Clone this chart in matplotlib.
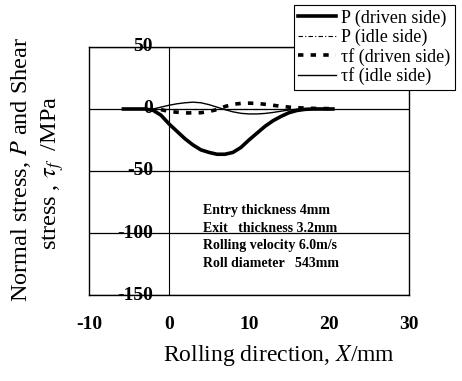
import matplotlib
matplotlib.use('Agg')
import matplotlib.pyplot as plt

plt.rcParams['font.family'] = ['Liberation Serif', 'DejaVu Serif']
plt.rcParams['mathtext.fontset'] = 'stix'

# rolling direction X (mm) and stresses (MPa)
x_p_drv = [-5.7, -3, -2, -1, 0, 1, 2, 3, 4, 5, 6, 7, 8, 9, 10, 11, 12, 13, 14, 15, 16, 17, 18, 20.5]
p_drv = [0, 0, -1, -5, -12, -18, -24, -29, -33, -35, -36.5, -36.5, -35, -31, -25, -19.5, -14, -9.5, -6, -3, -1.2, -0.3, 0, 0]

x_p_idl = [-2, 0, 5, 10, 15, 20.5]
p_idl = [0, 0, 0, 0, 0, 0]

x_tf_drv = [-1, 0, 2, 4, 5, 6, 7, 8, 9, 10, 11, 12, 13, 14, 15, 16, 17, 18, 20]
tf_drv = [-0.5, -2, -3.2, -3, -2, -0.5, 2, 3.8, 4.5, 4.7, 4.5, 3.8, 3, 2.2, 1.5, 1.0, 0.8, 0.5, 0.3]

x_tf_idl = [-2, -1, 0, 1, 2, 3, 4, 5, 6, 7, 8, 9, 10, 11, 12, 13, 14, 15, 16, 17, 20.5]
tf_idl = [0, 1.5, 3, 4.2, 5, 5.5, 5, 3.5, 1.5, -0.5, -2.3, -3.5, -4, -4, -3.6, -2.8, -1.8, -0.8, -0.2, 0, 0]

yticks = [50, 0, -50, -100, -150]
xticks = [-10, 0, 10, 20, 30]
notes = ['Entry thickness 4mm', 'Exit   thickness 3.2mm',
         'Rolling velocity 6.0m/s', 'Roll diameter   543mm']

fig = plt.figure(figsize=(4.62, 3.81), dpi=100)
ax = fig.add_axes([0.1926, 0.2257, 0.6926, 0.651])

for y in yticks:
    ax.axhline(y, color='k', lw=0.9, zorder=1)
ax.axvline(0, color='k', lw=0.8, zorder=1)

ax.plot(x_p_drv, p_drv, 'k-', lw=2.6, label='P (driven side)', zorder=3)
ax.plot(x_p_idl, p_idl, 'k', ls=(0, (4, 2, 1, 2)), lw=0.8, label='P (idle side)', zorder=3)
ax.plot(x_tf_drv, tf_drv, 'k', ls=(0, (1.5, 2)), lw=2.6, label='τf (driven side)', zorder=3)
ax.plot(x_tf_idl, tf_idl, 'k-', lw=1.0, label='τf (idle side)', zorder=3)

ax.set_xlim(-10, 30)
ax.set_ylim(-150, 50)
ax.set_xticks(xticks)
ax.set_xticklabels([str(v) for v in xticks], fontsize=14, fontweight='bold')
ax.tick_params(axis='x', length=0, pad=15)
ax.set_yticks([])
for sp in ax.spines.values():
    sp.set_linewidth(1.0)

for y in yticks:
    ax.text(-2.0, y, str(y), ha='right', va='center', fontsize=14,
            fontweight='bold', zorder=5)

for i, s in enumerate(notes):
    ax.text(4.3, -82 - i * 14.2, s, fontsize=10, fontweight='bold', va='center')

fig.text(0.604, 0.068, 'Rolling direction, $X$/mm', ha='center', va='center', fontsize=17)
fig.text(0.045, 0.554, 'Normal stress, $P$ and Shear', rotation=90, ha='center', va='center', fontsize=17.5)
fig.text(0.113, 0.546, r'stress , $\tau_f$  /MPa', rotation=90, ha='center', va='center', fontsize=17.5)

leg = ax.legend(loc='upper left', bbox_to_anchor=(0.636, 0.987), bbox_transform=fig.transFigure,
                fontsize=13, frameon=True, fancybox=False, framealpha=1, edgecolor='k',
                handlelength=2.1, handletextpad=0.25, labelspacing=0.1, borderpad=0.25,
                borderaxespad=0)
leg.get_frame().set_linewidth(0.8)

fig.savefig('out.png', dpi=100)
